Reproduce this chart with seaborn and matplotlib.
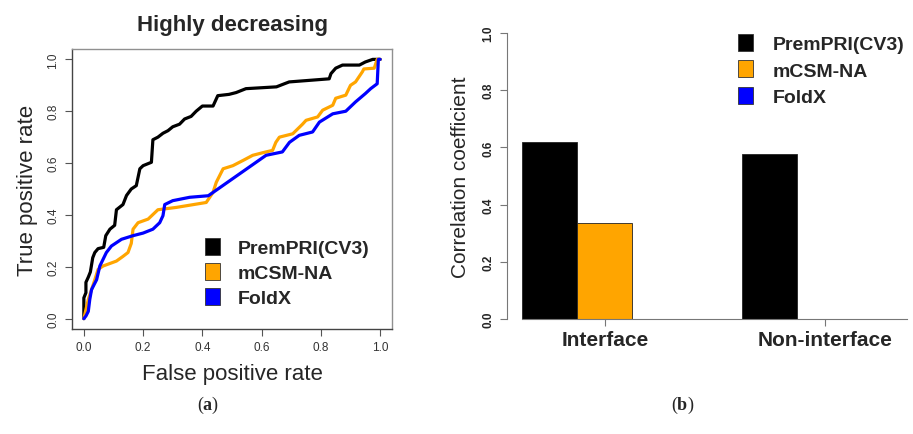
import numpy as np
import pandas as pd
import seaborn as sns
import matplotlib
matplotlib.use("Agg")
import matplotlib.pyplot as plt
from matplotlib.patches import Patch

# ROC curves (false positive rate, true positive rate)
prempri_fpr = [0, 0, 0.007, 0.007, 0.015, 0.022, 0.03, 0.037, 0.048, 0.067, 0.074, 0.088, 0.104,
               0.11, 0.132, 0.144, 0.16, 0.177, 0.189, 0.2, 0.228, 0.233, 0.25, 0.267, 0.284,
               0.3, 0.323, 0.34, 0.362, 0.379, 0.40, 0.436, 0.452, 0.49, 0.514, 0.547, 0.65,
               0.677, 0.693, 0.772, 0.828, 0.834, 0.85, 0.873, 0.93, 0.95, 0.975, 1.0]
prempri_tpr = [0, 0.08, 0.10, 0.14, 0.16, 0.18, 0.235, 0.255, 0.27, 0.275, 0.32, 0.345, 0.36,
               0.42, 0.44, 0.475, 0.50, 0.513, 0.578, 0.59, 0.603, 0.69, 0.70, 0.715, 0.725,
               0.74, 0.75, 0.77, 0.78, 0.80, 0.82, 0.82, 0.86, 0.865, 0.872, 0.887, 0.894,
               0.906, 0.913, 0.92, 0.925, 0.945, 0.966, 0.978, 0.978, 0.99, 1.0, 1.0]

mcsm_fpr = [0, 0.007, 0.015, 0.026, 0.037, 0.048, 0.065, 0.11, 0.132, 0.149, 0.16, 0.166,
            0.183, 0.217, 0.25, 0.312, 0.413, 0.436, 0.447, 0.47, 0.503, 0.537, 0.57, 0.604,
            0.637, 0.648, 0.66, 0.705, 0.738, 0.75, 0.789, 0.806, 0.84, 0.85, 0.884, 0.9,
            0.917, 0.94, 0.945, 0.98, 0.99, 1.0]
mcsm_tpr = [0, 0.035, 0.074, 0.112, 0.15, 0.19, 0.203, 0.222, 0.24, 0.255, 0.29, 0.345,
            0.37, 0.384, 0.42, 0.429, 0.448, 0.487, 0.526, 0.578, 0.59, 0.61, 0.63, 0.64,
            0.649, 0.68, 0.70, 0.713, 0.75, 0.765, 0.778, 0.804, 0.823, 0.85, 0.862, 0.90,
            0.913, 0.952, 0.963, 0.966, 1.0, 1.0]

foldx_fpr = [0, 0.007, 0.015, 0.02, 0.026, 0.043, 0.054, 0.076, 0.093, 0.127, 0.166, 0.2,
             0.233, 0.256, 0.267, 0.273, 0.3, 0.357, 0.42, 0.615, 0.67, 0.694, 0.727, 0.772,
             0.795, 0.84, 0.884, 0.917, 0.95, 0.968, 0.99, 0.994, 1.0]
foldx_tpr = [0, 0.01, 0.028, 0.074, 0.112, 0.15, 0.203, 0.255, 0.28, 0.306, 0.32, 0.33,
             0.345, 0.37, 0.397, 0.44, 0.455, 0.468, 0.474, 0.63, 0.643, 0.68, 0.707, 0.72,
             0.758, 0.79, 0.80, 0.836, 0.868, 0.887, 0.906, 1.0, 1.0]

# correlation coefficients
regions = ["Interface", "Non-interface"]
methods = ["PremPRI(CV3)", "mCSM-NA", "FoldX"]
prempri_corr = [0.62, 0.577]
mcsm_corr = [0.337, 0.0]
foldx_corr = [0.0, 0.0]

colors = {"PremPRI(CV3)": "black", "mCSM-NA": "orange", "FoldX": "blue"}

sns.set_style("white")
plt.rcParams["font.family"] = ["Liberation Sans", "DejaVu Sans"]
plt.rcParams["mathtext.fontset"] = "custom"
plt.rcParams["mathtext.rm"] = "Liberation Serif"
plt.rcParams["mathtext.bf"] = "Liberation Serif:bold"

fig = plt.figure(figsize=(9.13, 4.35), dpi=100)

# ---- (a) ROC ----
ax1 = fig.add_axes([72 / 913, 1 - 330 / 435, 320 / 913, 280 / 435])
roc = pd.concat([
    pd.DataFrame({"fpr": prempri_fpr, "tpr": prempri_tpr, "method": "PremPRI(CV3)"}),
    pd.DataFrame({"fpr": mcsm_fpr, "tpr": mcsm_tpr, "method": "mCSM-NA"}),
    pd.DataFrame({"fpr": foldx_fpr, "tpr": foldx_tpr, "method": "FoldX"}),
], ignore_index=True)
for m in ["PremPRI(CV3)", "mCSM-NA", "FoldX"]:
    sub = roc[roc["method"] == m]
    sns.lineplot(data=sub, x="fpr", y="tpr", sort=False, estimator=None,
                 color=colors[m], linewidth=2.3, ax=ax1, legend=False)
ax1.set_xlim(-0.04, 1.04)
ax1.set_ylim(-0.04, 1.04)
ticks = [0, 0.2, 0.4, 0.6, 0.8, 1.0]
ax1.set_xticks(ticks)
ax1.set_yticks(ticks)
ax1.set_xticklabels([f"{t:.1f}" for t in ticks])
ax1.set_yticklabels([f"{t:.1f}" for t in ticks], rotation=90, va="center")
ax1.tick_params(axis="both", direction="out", length=5, width=0.8, color="#555555",
                labelsize=8.5, labelcolor="#333333", pad=4, bottom=True, left=True)
for s in ["top", "right"]:
    ax1.spines[s].set_color("#909090")
for s in ["left", "bottom"]:
    ax1.spines[s].set_color("#444444")
for s in ax1.spines.values():
    s.set_linewidth(1.0)
ax1.set_xlabel("False positive rate", fontsize=16, labelpad=7)
ax1.set_ylabel("True positive rate", fontsize=16, labelpad=7)
ax1.set_title("Highly decreasing", fontsize=16, fontweight="bold", pad=14)
h1 = [Patch(facecolor=colors[m], edgecolor="#333333", linewidth=0.6, label=m) for m in methods]
ax1.legend(handles=h1, loc="upper left", bbox_to_anchor=(205 / 913, 1 - 239 / 435),
           bbox_transform=fig.transFigure, frameon=False, borderaxespad=0,
           prop={"weight": "bold", "size": 14}, handlelength=0.78, handleheight=0.95,
           handletextpad=0.92, labelspacing=0.3, borderpad=0)

# ---- (b) bars ----
ax2 = fig.add_axes([507 / 913, 1 - 320 / 435, (913 - 507) / 913, 286 / 435])
corr = pd.DataFrame({
    "region": regions * 3,
    "method": [methods[0]] * 2 + [methods[1]] * 2 + [methods[2]] * 2,
    "value": prempri_corr + mcsm_corr + foldx_corr,
})
sns.barplot(data=corr, x="region", y="value", hue="method", hue_order=methods,
            order=regions, palette=colors, width=0.75, edgecolor="#222222",
            linewidth=0.6, saturation=1, ax=ax2, legend=False, errorbar=None)
ax2.set_xlim(-0.445, 1.4)
ax2.set_ylim(0, 1.0)
ax2.set_yticks(ticks)
ax2.set_yticklabels([f"{t:.1f}" for t in ticks], rotation=90, va="center",
                    fontweight="bold")
ax2.tick_params(axis="y", direction="out", length=5, width=0.8, color="#777777",
                labelsize=8.5, pad=4, left=True)
ax2.tick_params(axis="x", direction="out", length=5, width=0.8, color="#777777",
                labelsize=15, pad=3, bottom=True)
for lab in ax2.get_xticklabels():
    lab.set_fontweight("bold")
sns.despine(ax=ax2, top=True, right=True)
ax2.spines["left"].set_color("#777777")
ax2.spines["bottom"].set_color("#777777")
ax2.spines["bottom"].set_bounds(-0.377, 1.373)
ax2.set_xlabel("")
ax2.set_ylabel("Correlation coefficient", fontsize=15, labelpad=9)
h2 = [Patch(facecolor=colors[m], edgecolor="#333333", linewidth=0.6, label=m) for m in methods]
ax2.legend(handles=h2, loc="upper left", bbox_to_anchor=(738 / 913, 1 - 35 / 435),
           bbox_transform=fig.transFigure, frameon=False, borderaxespad=0,
           prop={"weight": "bold", "size": 14}, handlelength=0.78, handleheight=0.95,
           handletextpad=1.0, labelspacing=0.38, borderpad=0)

# captions
fig.text(208 / 913, 1 - 405 / 435, r"($\mathbf{a}$)", ha="center", va="center",
         fontsize=13, family="Liberation Serif")
fig.text(683 / 913, 1 - 405 / 435, r"($\mathbf{b}$)", ha="center", va="center",
         fontsize=13, family="Liberation Serif")

fig.savefig("out.png", dpi=100)
